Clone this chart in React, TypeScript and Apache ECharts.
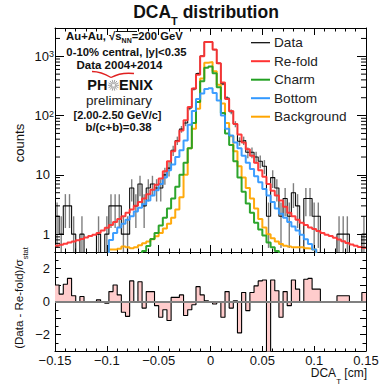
import React, { useEffect, useRef } from "react";
import * as echarts from "echarts";

const FONT = '"Liberation Sans", Arial, Helvetica, sans-serif';

// Histogram binning of DCA_T [cm]
const BIN_LOW = -0.15;
const BIN_WIDTH = 0.004;

// counts per bin (75 bins from -0.15 to 0.15 cm)
const dataCounts = [
  2, 1, 3, 3, 1, 0, 1, 0, 0, 0,
  1, 0, 1, 3, 3, 3, 1, 1, 6, 3,
  7, 3, 6, 7, 6, 6, 10, 13, 26, 38,
  59, 75, 134, 282, 510, 1013, 1752, 1750, 1295, 759,
  342, 198, 116, 72, 37, 38, 24, 24, 20, 17,
  14, 2, 9, 6, 2, 4, 2, 5, 3, 0,
  4, 4, 2, 2, 0, 0, 0, 0, 1, 1,
  1, 0, 0, 0, 1,
];
const refoldCounts = [
  0.64, 0.66, 0.69, 0.72, 0.75, 0.79, 0.83, 0.88, 0.93, 0.98,
  1.05, 1.15, 1.28, 1.43, 1.6, 1.8, 2.0, 2.3, 2.6, 3.0,
  3.5, 4.0, 4.7, 5.6, 6.8, 8.7, 11.5, 17, 25, 37,
  56, 83, 140, 285, 490, 1000, 1750, 1750, 1300, 760,
  360, 190, 120, 72, 48, 35, 27, 21, 16, 12,
  9.3, 7.0, 5.4, 4.5, 3.7, 2.9, 2.3, 2.0, 1.75, 1.55,
  1.42, 1.3, 1.22, 1.13, 1.05, 0.98, 0.93, 0.87, 0.81, 0.76,
  0.71, 0.67, 0.64, 0.61, 0.59,
];
const charmCounts = [
  0, 0, 0, 0, 0, 0, 0, 0, 0, 0,
  0, 0, 0, 0, 0, 0, 0, 0, 0, 0,
  0, 0.52, 0.63, 0.83, 1.05, 1.4, 1.9, 2.7, 4.0, 6.3,
  10, 16, 28, 75, 170, 380, 640, 670, 520, 300,
  110, 50, 32, 17, 9, 5.2, 3.3, 2.3, 1.55, 1.2,
  0.95, 0.72, 0.6, 0.52, 0, 0, 0, 0, 0, 0,
  0, 0, 0, 0, 0, 0, 0, 0, 0, 0,
  0, 0, 0, 0, 0,
];
const bottomCounts = [
  0, 0, 0, 0, 0, 0, 0, 0, 0, 0,
  0, 0, 0.45, 0.8, 1.05, 1.3, 1.5, 1.75, 2.0, 2.4,
  2.8, 3.2, 3.7, 4.5, 5.5, 7, 9, 12, 15, 20,
  26, 38, 70, 120, 190, 235, 280, 290, 240, 180,
  100, 60, 46, 35, 28, 21, 16, 12.5, 9.5, 7.5,
  5.8, 4.5, 3.5, 2.7, 2.2, 1.9, 1.6, 1.35, 1.15, 0.98,
  0.82, 0.68, 0.55, 0, 0, 0, 0, 0, 0, 0,
  0, 0, 0, 0, 0,
];
const backgroundCounts = [
  0, 0, 0, 0, 0, 0, 0, 0, 0, 0,
  0, 0, 0, 0.55, 0.55, 0.57, 0.62, 0.6, 0.58, 0.6,
  0.65, 0.7, 0.75, 0.82, 0.92, 1.05, 1.25, 1.5, 1.9, 2.6,
  4.2, 10, 28, 60, 130, 420, 780, 800, 560, 330,
  160, 75, 45, 25, 14, 9, 6, 4, 2.7, 1.8,
  1.3, 1.0, 0.85, 0.75, 0.68, 0.64, 0.62, 0.6, 0.6, 0.6,
  0.58, 0.57, 0.55, 0, 0, 0, 0, 0, 0, 0,
  0, 0, 0, 0, 0,
];
// (Data - Re-fold)/sigma_stat per bin
const pullValues = [
  1.0, 0.45, 1.05, 1.4, 0.35, 0, 0.3, 0, 0, 0,
  0.1, 0, -0.1, 0.6, 1.0, 0.4, -0.65, -0.9, 1.25, 0,
  1.2, -0.4, 0.6, 0.6, -0.25, -0.95, -0.5, -1.15, 0.25, 0.25,
  0.4, -0.85, -0.5, -0.2, 0.9, 0.4, 0.05, 0, -0.15, -0.05,
  -0.95, 0.6, -0.4, 0.05, -1.9, 0.55, -0.55, 0.55, 0.95, 1.25,
  1.3, -3.5, 1.3, 0.65, -0.95, 0.6, -0.25, 1.3, 0.75, 0,
  1.35, 1.4, 0.75, 0.75, 0, 0, 0, 0, 0.35, 0.35,
  0.35, 0, 0, 0, 0.55,
];

const logMinorTicks = [
  0.6, 0.7, 0.8, 0.9, 2, 3, 4, 5, 6, 7, 8, 9,
  20, 30, 40, 50, 60, 70, 80, 90,
  200, 300, 400, 500, 600, 700, 800, 900, 2000,
];

const legendItems = [
  { name: "Data", color: "#000000", width: 1.2 },
  { name: "Re-fold", color: "#ff3333", width: 2 },
  { name: "Charm", color: "#22a022", width: 2 },
  { name: "Bottom", color: "#3399ff", width: 2 },
  { name: "Background", color: "#ffa500", width: 2 },
];

export default function App() {
  const ref = useRef<HTMLDivElement>(null);

  useEffect(() => {
    const chart = echarts.init(ref.current!, null, { renderer: "svg" });
    const nBins = dataCounts.length;
    const edges = Array.from({ length: nBins + 1 }, (_, k) =>
      Number((BIN_LOW + BIN_WIDTH * k).toFixed(4))
    );
    const step = (vals: number[], floor: number | null) => {
      const f = (v: number) => (floor !== null && !(v > 0) ? floor : v);
      const pts: number[][] = vals.map((v, k) => [edges[k], f(v)]);
      pts.push([edges[nBins], f(vals[nBins - 1])]);
      return pts;
    };
    const errData = dataCounts
      .map((c, k) =>
        c > 0 ? [edges[k] + BIN_WIDTH / 2, c - Math.sqrt(c), c + Math.sqrt(c)] : null
      )
      .filter((d) => d !== null) as number[][];

    const G0 = { left: 55, top: 28, width: 311, height: 224 };
    const G1 = { left: 55, top: 252, width: 311, height: 99 };

    const xAxis = (gridIndex: number, position: string, label: boolean, len: number) => ({
      type: "value",
      gridIndex,
      position,
      min: -0.15,
      max: 0.15,
      interval: 0.05,
      axisLine: { show: true, onZero: false, lineStyle: { color: "#000", width: 1 } },
      axisTick: { show: true, inside: true, length: len, lineStyle: { color: "#000", width: 1 } },
      minorTick: { show: true, splitNumber: 5, length: len / 2, lineStyle: { color: "#000", width: 1 } },
      splitLine: { show: false },
      minorSplitLine: { show: false },
      axisLabel: label
        ? {
            show: true,
            interval: 0,
            margin: 3,
            showMinLabel: true,
            showMaxLabel: true,
            fontSize: 13,
            fontFamily: FONT,
            color: "#111",
            formatter: (v: number) => String(Math.round(v * 100) / 100).replace("-", "\u2212"),
          }
        : { show: false },
    });

    const logY = (position: string, label: boolean) => ({
      type: "log",
      logBase: 10,
      gridIndex: 0,
      position,
      min: 0.5,
      max: 3000,
      axisLine: { show: true, onZero: false, lineStyle: { color: "#000", width: 1 } },
      axisTick: { show: true, inside: true, length: 9, lineStyle: { color: "#000", width: 1 } },
      splitLine: { show: false },
      axisLabel: label
        ? {
            show: true,
            margin: 1,
            fontSize: 13,
            fontFamily: FONT,
            color: "#111",
            formatter: (v: number) => {
              if (Math.abs(v - 1) < 1e-6) return "{n|1}";
              if (Math.abs(v - 10) < 1e-6) return "{n|10}";
              if (Math.abs(v - 100) < 1e-4) return "10{p|2}";
              if (Math.abs(v - 1000) < 1e-3) return "10{p|3}";
              return "";
            },
            rich: {
              n: { fontSize: 13, fontFamily: FONT, color: "#111", padding: [0, 4, 0, 0] },
              p: { fontSize: 9, fontFamily: FONT, color: "#111", lineHeight: 9, verticalAlign: "top" },
            },
          }
        : { show: false },
    });

    const pullY = (position: string, label: boolean) => ({
      type: "value",
      gridIndex: 1,
      position,
      min: -3,
      max: 3,
      interval: 1,
      axisLine: { show: true, onZero: false, lineStyle: { color: "#000", width: 1 } },
      axisTick: { show: true, inside: true, length: 6, lineStyle: { color: "#000", width: 1 } },
      minorTick: { show: true, splitNumber: 2, length: 3.5, lineStyle: { color: "#000", width: 1 } },
      splitLine: { show: false },
      minorSplitLine: { show: false },
      axisLabel: label
        ? {
            show: true,
            margin: 5,
            fontSize: 13,
            fontFamily: FONT,
            color: "#111",
            formatter: (v: number) =>
              Math.round(v) % 2 === 0 ? String(Math.round(v)).replace("-", "\u2212") : "",
          }
        : { show: false },
    });

    const histLine = (name: string, vals: number[], color: string, width: number, z: number) => ({
      name,
      type: "line",
      xAxisIndex: 0,
      yAxisIndex: 0,
      data: step(vals, 0.05),
      step: "end",
      symbol: "none",
      showSymbol: false,
      clip: true,
      z,
      lineStyle: { color, width, opacity: 0.95 },
      silent: true,
    });

    const txt = (
      text: string,
      x: number,
      y: number,
      size: number,
      weight: string,
      align = "center",
      fill = "#111"
    ) => ({
      type: "text",
      x,
      y,
      silent: true,
      style: {
        text,
        fontSize: size,
        fontWeight: weight,
        fontFamily: FONT,
        fill,
        align,
        verticalAlign: "middle",
      },
    });

    const star: any[] = [];
    for (let i = 0; i < 14; i++) {
      const a = (i / 14) * Math.PI * 2;
      star.push({
        type: "line",
        silent: true,
        shape: {
          x1: 113.5 + Math.cos(a) * 1.5,
          y1: 85.3 + Math.sin(a) * 1.5,
          x2: 113.5 + Math.cos(a) * 5.5,
          y2: 85.3 + Math.sin(a) * 5.5,
        },
        style: { stroke: "#a0a0a0", lineWidth: 1 },
      });
    }

    const legendEls: any[] = [];
    legendItems.forEach((it, i) => {
      const y = 42.7 + i * 18.5;
      legendEls.push({
        type: "line",
        silent: true,
        shape: { x1: 251, y1: y, x2: 270, y2: y },
        style: { stroke: it.color, lineWidth: it.width },
      });
      legendEls.push(txt(it.name, 274, y, 13.6, "normal", "left", "#222"));
    });

    const option: any = {
      animation: false,
      backgroundColor: "#fff",
      textStyle: { fontFamily: FONT },
      grid: [
        { ...G0, show: false, containLabel: false },
        { ...G1, show: false, containLabel: false },
      ],
      xAxis: [
        xAxis(0, "bottom", false, 7),
        xAxis(0, "top", false, 7),
        xAxis(1, "bottom", true, 5),
        xAxis(1, "top", false, 4),
      ],
      yAxis: [logY("left", true), logY("right", false), pullY("left", true), pullY("right", false)],
      series: [
        histLine("Data", dataCounts, "#000000", 1.1, 3),
        {
          name: "DataErr",
          type: "custom",
          xAxisIndex: 0,
          yAxisIndex: 0,
          z: 3,
          silent: true,
          data: errData,
          encode: { x: 0, y: 2 },
          renderItem: (params: any, api: any) => {
            const cs = params.coordSys;
            const x = api.value(0);
            const lo = api.value(1);
            const hi = api.value(2);
            const pHi = api.coord([x, hi]);
            let yLo = lo > 0 ? api.coord([x, lo])[1] : cs.y + cs.height;
            yLo = Math.min(yLo, cs.y + cs.height);
            const yHi = Math.max(pHi[1], cs.y);
            return {
              type: "line",
              shape: { x1: pHi[0], y1: yLo, x2: pHi[0], y2: yHi },
              style: { stroke: "rgba(0,0,0,0.5)", lineWidth: 1.4 },
            };
          },
        },
        histLine("Background", backgroundCounts, "#ffa500", 2, 4),
        histLine("Charm", charmCounts, "#22a022", 2, 5),
        histLine("Bottom", bottomCounts, "#3399ff", 2, 6),
        histLine("Re-fold", refoldCounts, "#ff3333", 2, 7),
        {
          name: "LogMinorTicks",
          type: "custom",
          xAxisIndex: 0,
          yAxisIndex: 0,
          z: 10,
          silent: true,
          data: logMinorTicks.map((v) => [BIN_LOW, v]),
          encode: { x: 0, y: 1 },
          renderItem: (params: any, api: any) => {
            const cs = params.coordSys;
            const p = api.coord([api.value(0), api.value(1)]);
            return {
              type: "group",
              children: [
                { type: "line", shape: { x1: cs.x, y1: p[1], x2: cs.x + 5, y2: p[1] }, style: { stroke: "#000", lineWidth: 1 } },
                {
                  type: "line",
                  shape: { x1: cs.x + cs.width - 5, y1: p[1], x2: cs.x + cs.width, y2: p[1] },
                  style: { stroke: "#000", lineWidth: 1 },
                },
              ],
            };
          },
        },
        {
          name: "Pull",
          type: "line",
          xAxisIndex: 2,
          yAxisIndex: 2,
          data: step(pullValues, null),
          step: "end",
          symbol: "none",
          showSymbol: false,
          clip: true,
          silent: true,
          lineStyle: { color: "#000", width: 1.1 },
          areaStyle: { color: "#ffcccc", opacity: 1 },
          markLine: {
            silent: true,
            symbol: ["none", "none"],
            label: { show: false },
            lineStyle: { color: "#808080", width: 2, type: "solid" },
            data: [{ yAxis: 0 }],
          },
        },
      ],
      graphic: [
        {
          type: "text",
          x: 206,
          y: 14.5,
          silent: true,
          style: {
            text: "{a|DCA}{s|T}{a| distribution}",
            align: "center",
            verticalAlign: "middle",
            rich: {
              a: { fontSize: 17.5, fontWeight: "bold", fontFamily: FONT, fill: "#111", lineHeight: 24, verticalAlign: "top" },
              s: { fontSize: 11, fontWeight: "bold", fontFamily: FONT, fill: "#111", lineHeight: 11, verticalAlign: "bottom" },
            },
          },
        },
        {
          type: "text",
          x: 124.5,
          y: 37,
          silent: true,
          style: {
            text: "{b|Au+Au, \u221As}{n|NN}{b|=200 GeV}",
            align: "center",
            verticalAlign: "middle",
            rich: {
              b: { fontSize: 11.3, fontWeight: "bold", fontFamily: FONT, fill: "#111", lineHeight: 14, verticalAlign: "top" },
              n: { fontSize: 7, fontWeight: "bold", fontFamily: FONT, fill: "#111", lineHeight: 7, verticalAlign: "bottom" },
            },
          },
        },
        { type: "line", silent: true, shape: { x1: 115.5, y1: 31.5, x2: 137, y2: 31.5 }, style: { stroke: "#111", lineWidth: 1 } },
        txt("0-10% central, |y|<0.35", 126.5, 51.7, 11.3, "bold"),
        txt("Data 2004+2014", 119.5, 65, 11.5, "bold"),
        {
          type: "bezierCurve",
          silent: true,
          shape: { x1: 92, y1: 71.5, cpx1: 101, cpy1: 71.5, x2: 111, y2: 77.5 },
          style: { stroke: "#e02020", lineWidth: 1.4, fill: "none" },
        },
        {
          type: "bezierCurve",
          silent: true,
          shape: { x1: 111, y1: 77.5, cpx1: 121, cpy1: 72, x2: 134, y2: 73.5 },
          style: { stroke: "#e02020", lineWidth: 1.4, fill: "none" },
        },
        txt("PH", 107.5, 85.2, 14.5, "bold", "right"),
        ...star,
        txt("ENIX", 119, 85.2, 14.5, "bold", "left"),
        txt("preliminary", 119, 100.7, 13.5, "normal", "center", "#222"),
        txt("[2.00-2.50 GeV/c]", 117.5, 114.5, 11, "bold"),
        txt("b/(c+b)=0.38", 118.5, 127.2, 11.3, "bold"),
        ...legendEls,
        {
          type: "text",
          x: 19,
          y: 143,
          rotation: Math.PI / 2,
          silent: true,
          style: { text: "counts", fontSize: 13, fontFamily: FONT, fill: "#111", align: "center", verticalAlign: "middle" },
        },
        {
          type: "text",
          x: 21,
          y: 298,
          rotation: Math.PI / 2,
          silent: true,
          style: {
            text: "{a|(Data - Re-fold)/\u03C3}{s|stat}",
            align: "center",
            verticalAlign: "middle",
            rich: {
              a: { fontSize: 11.5, fontFamily: FONT, fill: "#111", lineHeight: 16, verticalAlign: "top" },
              s: { fontSize: 7.5, fontFamily: FONT, fill: "#111", lineHeight: 8, verticalAlign: "bottom" },
            },
          },
        },
        {
          type: "text",
          x: 367,
          y: 376,
          silent: true,
          style: {
            text: "{a|DCA}{s|T}{a| [cm]}",
            align: "right",
            verticalAlign: "middle",
            rich: {
              a: { fontSize: 12, fontFamily: FONT, fill: "#111", lineHeight: 18, verticalAlign: "top" },
              s: { fontSize: 8, fontFamily: FONT, fill: "#111", lineHeight: 8, verticalAlign: "bottom" },
            },
          },
        },
      ],
    };

    chart.setOption(option);
    return () => chart.dispose();
  }, []);

  return (
    <div
      ref={ref}
      style={{ position: "fixed", left: 0, top: 0, width: 384, height: 385, background: "#fff" }}
    />
  );
}
